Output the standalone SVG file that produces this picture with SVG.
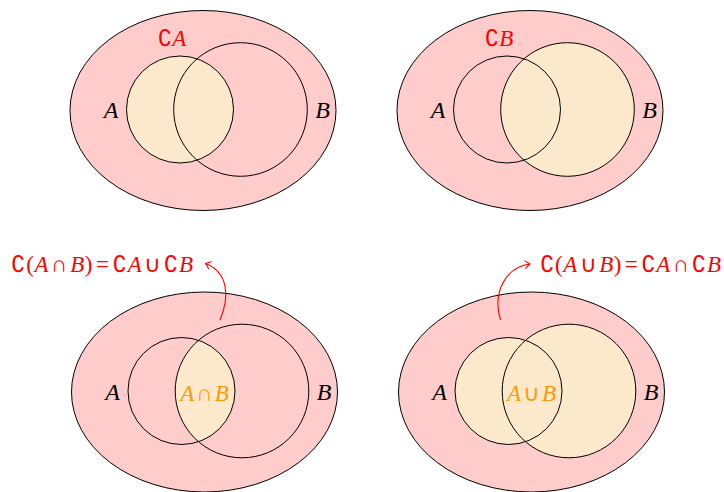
<svg xmlns="http://www.w3.org/2000/svg" width="724" height="492" viewBox="0 0 724 492">
<style>
.u{fill:#ffcccc;stroke:#000;stroke-width:1}
.c{fill:none;stroke:#000;stroke-width:1}
.f{fill:#fce9cc;stroke:none}
.lbl{font-family:"Liberation Serif",serif;font-style:italic;font-size:24px;fill:#000;text-anchor:middle}
.red{font-family:"Liberation Serif",serif;font-size:23px;fill:#ff0000}
.or{font-family:"Liberation Serif",serif;font-size:23px;fill:#ff9900;text-anchor:middle}
.i{font-style:italic}
.m{font-family:"DejaVu Sans",sans-serif;font-style:normal}
.arr{fill:none;stroke:#ff0000;stroke-width:1.1}
</style>
<defs>
<clipPath id="clipA"><circle cx="-23" cy="-1" r="53.5"/></clipPath>
<marker id="ah" markerUnits="userSpaceOnUse" markerWidth="12" markerHeight="12" viewBox="-6 -6 12 12" refX="0" refY="0" orient="auto">
<path d="M -5 -4 Q -1.5 -1 0 0 Q -1.5 1 -5 4" fill="none" stroke="#ff0000" stroke-width="1.1"/>
</marker>
</defs>
<g id="venn-complement-A" transform="translate(203,110.5)">
<ellipse class="u" cx="0" cy="0" rx="133" ry="100"/>
<circle class="f" cx="-23" cy="-1" r="53.5"/>
<circle class="c" cx="-23" cy="-1" r="53.5"/>
<circle class="c" cx="37.5" cy="-1" r="66.8"/>
<text class="lbl" x="-92" y="7.5">A</text>
<text class="lbl" x="119.5" y="7.5">B</text>
<text class="red" x="-31" y="-64.5" text-anchor="middle"><tspan class="m">∁</tspan><tspan class="i">A</tspan></text>
</g>
<g id="venn-complement-B" transform="translate(530,110.5)">
<ellipse class="u" cx="0" cy="0" rx="133" ry="100"/>
<circle class="f" cx="37.5" cy="-1" r="66.8"/>
<circle class="c" cx="-23" cy="-1" r="53.5"/>
<circle class="c" cx="37.5" cy="-1" r="66.8"/>
<text class="lbl" x="-92" y="7.5">A</text>
<text class="lbl" x="119.5" y="7.5">B</text>
<text class="red" x="-31" y="-64.5" text-anchor="middle"><tspan class="m">∁</tspan><tspan class="i">B</tspan></text>
</g>
<g id="venn-intersection" transform="translate(204.5,392)">
<ellipse class="u" cx="0" cy="0" rx="133" ry="100"/>
<circle class="f" cx="37.5" cy="-1" r="66.8" clip-path="url(#clipA)"/>
<circle class="c" cx="-23" cy="-1" r="53.5"/>
<circle class="c" cx="37.5" cy="-1" r="66.8"/>
<text class="lbl" x="-92" y="7.5">A</text>
<text class="lbl" x="119.5" y="7.5">B</text>
<text class="or" x="0" y="8.5"><tspan class="i">A</tspan><tspan dx="2">∩</tspan><tspan class="i" dx="2">B</tspan></text>
</g>
<g id="venn-union" transform="translate(531.5,392)">
<ellipse class="u" cx="0" cy="0" rx="133" ry="100"/>
<circle class="f" cx="-23" cy="-1" r="53.5"/>
<circle class="f" cx="37.5" cy="-1" r="66.8"/>
<circle class="c" cx="-23" cy="-1" r="53.5"/>
<circle class="c" cx="37.5" cy="-1" r="66.8"/>
<text class="lbl" x="-92" y="7.5">A</text>
<text class="lbl" x="119.5" y="7.5">B</text>
<text class="or" x="0" y="8.5"><tspan class="i">A</tspan><tspan dx="2">∪</tspan><tspan class="i" dx="2">B</tspan></text>
</g>
<g id="formula-left">
<text class="red" x="11" y="272" textLength="182" lengthAdjust="spacing"><tspan class="m">∁</tspan>(<tspan class="i">A</tspan><tspan dx="2">∩</tspan><tspan class="i" dx="2">B</tspan>)<tspan dx="3">=</tspan><tspan class="m" dx="3">∁</tspan><tspan class="i">A</tspan><tspan dx="2">∪</tspan><tspan class="m" dx="2">∁</tspan><tspan class="i">B</tspan></text>
</g>
<g id="formula-right">
<text class="red" x="540" y="272" textLength="181" lengthAdjust="spacing"><tspan class="m">∁</tspan>(<tspan class="i">A</tspan><tspan dx="2">∪</tspan><tspan class="i" dx="2">B</tspan>)<tspan dx="3">=</tspan><tspan class="m" dx="3">∁</tspan><tspan class="i">A</tspan><tspan dx="2">∩</tspan><tspan class="m" dx="2">∁</tspan><tspan class="i">B</tspan></text>
</g>
<g id="connectors">
<path class="arr" d="M 220 320 C 230 296 228 272 205.5 263.5" marker-end="url(#ah)"/>
<path class="arr" d="M 500.5 320 C 492 292 506 267 530 264" marker-end="url(#ah)"/>
</g>
</svg>
